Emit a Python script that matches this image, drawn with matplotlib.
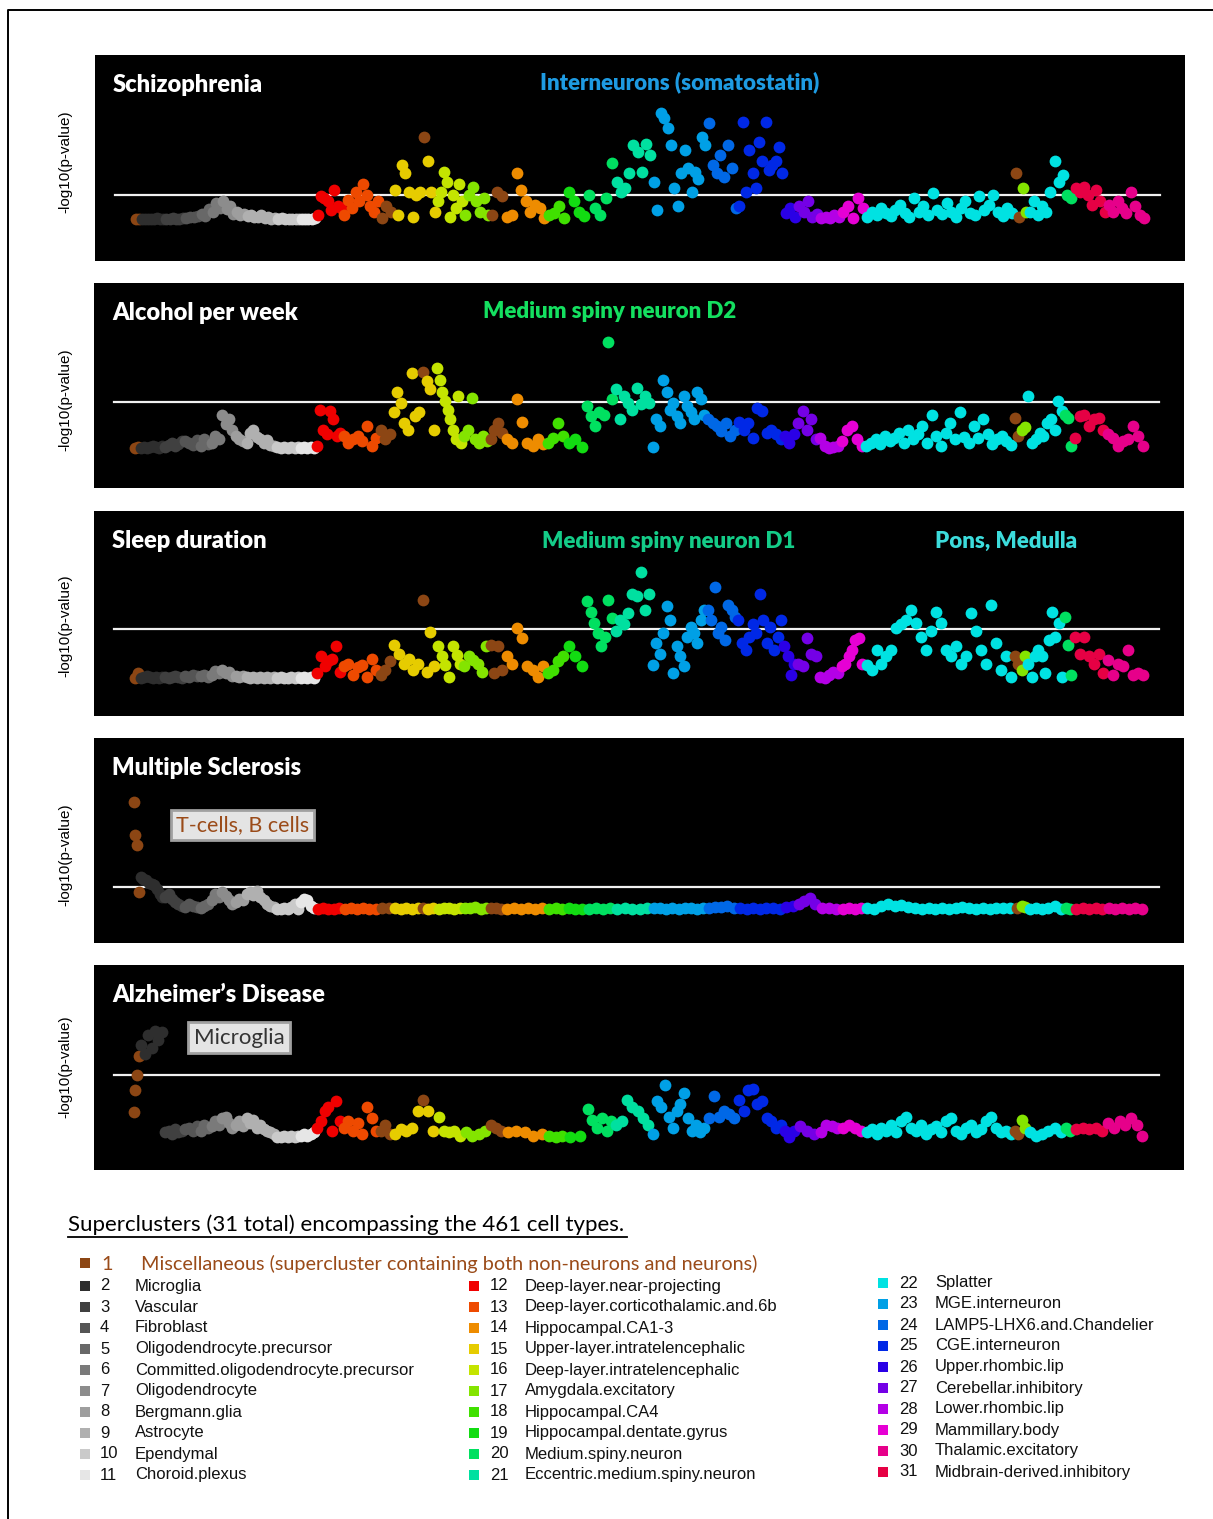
import matplotlib
matplotlib.use('Agg')
import matplotlib.pyplot as plt
from matplotlib.patches import Rectangle
import numpy as np

# supercluster legend
cluster_names = ['Miscellaneous (supercluster containing both non-neurons and neurons)',
                 'Microglia', 'Vascular', 'Fibroblast', 'Oligodendrocyte.precursor',
                 'Committed.oligodendrocyte.precursor', 'Oligodendrocyte', 'Bergmann.glia',
                 'Astrocyte', 'Ependymal', 'Choroid.plexus', 'Deep-layer.near-projecting',
                 'Deep-layer.corticothalamic.and.6b', 'Hippocampal.CA1-3',
                 'Upper-layer.intratelencephalic', 'Deep-layer.intratelencephalic',
                 'Amygdala.excitatory', 'Hippocampal.CA4', 'Hippocampal.dentate.gyrus',
                 'Medium.spiny.neuron', 'Eccentric.medium.spiny.neuron', 'Splatter',
                 'MGE.interneuron', 'LAMP5-LHX6.and.Chandelier', 'CGE.interneuron',
                 'Upper.rhombic.lip', 'Cerebellar.inhibitory', 'Lower.rhombic.lip',
                 'Mammillary.body', 'Thalamic.excitatory', 'Midbrain-derived.inhibitory']
cluster_colors = ['#8c4614', '#2e2e2e', '#404040', '#555555', '#686868', '#7a7a7a',
                  '#8c8c8c', '#9e9e9e', '#b0b0b0', '#cacaca', '#e6e6e6',
                  '#f00000', '#ee4a00', '#ee8c00', '#e6cc00', '#c4e400', '#84e400',
                  '#40e000', '#12dc12', '#00e060', '#00e0a0', '#00e2e2', '#00a0e6',
                  '#0068e6', '#0028e6', '#2a00e6', '#7400e6', '#b400e6', '#e600d4',
                  '#e6008a', '#e60044']

# cell types ordered along x: supercluster of each run and number of cell types in it
seg_cluster = [1, 2, 3, 4, 5, 6, 7, 8, 9, 10, 11,
               12, 13, 1, 15, 1, 15, 16, 17, 1, 14,
               18, 19, 20, 21, 23,
               24, 25, 26, 27, 28, 29, 22, 1, 17, 22, 20, 31, 30]
seg_count = [3, 11, 9, 7, 5, 5, 6, 5, 14, 11, 7,
             12, 17, 6, 13, 2, 5, 12, 12, 7, 19,
             9, 9, 13, 17, 25,
             14, 21, 6, 10, 10, 11, 68, 3, 3, 17, 4, 15, 18]

threshold = 4.0

# -log10(p), one list per run of cell types
schizophrenia = [
    [0.0, 0.1], [0.0, 0.1, 0.0, 0.1, 0.0, 0.2, 0.1, 0.0], [0.1, 0.0, 0.2, 0.1, 0.0, 0.2],
    [0.2, 0.4, 0.3, 0.5], [0.9, 0.5, 1.6], [1.2, 2.6, 1.8], [2.9, 1.6, 2.2, 0.9],
    [1.1, 0.7, 0.9], [0.5, 0.7, 0.3, 0.4, 0.6, 0.2, 0.3, 0.1, 0.2],
    [0.1, 0.2, 0.0, 0.1, 0.0, 0.1, 0.0], [0.0, 0.1, 0.0, 0.1, 0.2],
    [0.7, 3.7, 3.4, 2.9, 1.5, 4.8, 2.1, 1.8],
    [0.7, 3.1, 1.8, 4.5, 2.9, 5.8, 3.9, 2.1, 1.2, 2.9],
    [0.2, 2.1, 1.2],
    [4.8, 0.7, 8.8, 7.5, 4.5, 0.4, 3.9, 4.5],
    [13.4],
    [9.4, 4.5, 1.2],
    [2.9, 4.5, 7.7, 6.1, 0.4, 3.9, 1.8, 5.8, 2.9],
    [0.7, 3.9, 5.3, 2.9, 1.2, 3.4, 0.7],
    [0.7, 4.5, 3.7],
    [0.4, 0.7, 7.5, 4.8, 2.9, 1.2, 2.3, 1.8, 0.2],
    [0.7, 1.0, 2.1, 0.2],
    [4.5, 2.9, 1.2, 0.5],
    [3.9, 1.8, 0.7, 3.4, 9.1],
    [6.1, 4.5, 5.0, 7.5, 12.1, 11.0, 7.7, 12.3, 10.4],
    [6.1, 1.5, 17.2, 16.4, 14.8, 12.1, 5.0, 2.1, 7.5, 11.2, 8.3, 4.5, 7.7, 6.6, 13.4, 12.1],
    [15.6, 8.8, 7.5, 10.4, 6.9, 12.1, 8.3, 1.8],
    [2.1, 15.8, 4.5, 11.2, 7.5, 5.0, 12.6, 9.4, 15.8, 8.0, 8.8, 9.4, 11.8, 7.5],
    [1.0, 1.8, 0.4],
    [2.1, 1.2, 2.9, 0.4, 0.8],
    [0.2, 0.4, 0.2, 0.7, 0.3],
    [1.2, 2.1, 0.2, 3.4, 1.8],
    [0.4, 1.2, 0.7, 1.8, 1.0, 0.5, 1.5, 2.3, 1.0, 0.4, 3.4, 1.2, 2.1, 0.7, 4.3, 1.5,
     0.8, 2.6, 1.2, 0.4, 1.8, 2.9, 1.0, 0.7, 3.7, 1.5, 2.3, 3.9, 1.2, 0.5, 1.8, 1.0],
    [7.5, 0.3],
    [5.0, 1.2],
    [1.2, 2.9, 0.7, 2.1, 1.2, 4.5, 9.4, 6.1, 7.2],
    [3.9, 3.4],
    [5.0, 4.5, 5.3, 3.9, 2.3, 4.8, 2.9, 1.2],
    [2.3, 1.2, 2.9, 1.8, 1.0, 4.5, 2.1, 0.7, 0.2]]

alcohol = [
    [0.0, 0.1], [0.0, 0.1, 0.0, 0.1, 0.2, 0.1, 0.0, 0.2], [0.1, 0.3, 0.5, 0.2, 0.4, 0.6],
    [0.6, 0.5, 0.3, 0.7], [0.2, 0.8, 0.4], [0.5, 1.1, 0.8], [2.9, 2.1, 2.5, 1.6],
    [1.1, 0.8, 0.6], [0.5, 1.3, 1.6, 1.0, 0.8, 0.5, 0.7, 0.3, 0.2],
    [0.1, 0.0, 0.1, 0.0, 0.1, 0.0, 0.1], [0.0, 0.1, 0.0, 0.1, 0.0],
    [0.2, 3.3, 1.6, 1.2, 3.2, 2.5, 1.1, 1.3],
    [1.1, 0.5, 0.8, 1.1, 0.6, 1.9, 0.2, 0.9],
    [1.6, 0.8, 1.2],
    [3.1, 4.8, 3.9, 2.2, 1.6, 6.5, 2.8, 3.1],
    [6.6],
    [5.8, 5.1, 1.6],
    [6.9, 5.9, 4.8, 4.1, 3.3, 2.5, 1.6, 0.8, 4.5, 0.5],
    [1.1, 1.6, 4.3, 0.8, 0.5, 1.1, 0.6],
    [0.8, 1.6, 2.2, 1.3],
    [0.8, 0.5, 4.2, 2.3, 0.5, 0.2, 0.8, 0.4],
    [0.5, 0.9, 2.2, 1.1],
    [0.5, 0.8, 0.1],
    [3.6, 2.8, 1.9, 3.1, 2.9, 9.1, 4.2],
    [5.1, 2.5, 4.5, 3.9, 3.3, 5.2, 3.8, 4.5, 3.9],
    [0.1, 2.5, 1.9, 5.9, 4.8, 3.3, 3.9, 2.8, 2.2, 4.5, 3.6, 3.1, 2.5, 4.8, 4.2, 2.9],
    [2.5, 2.2, 1.9, 1.5, 2.2, 1.1, 1.6],
    [2.3, 1.6, 2.2, 0.9, 3.5, 3.2, 1.3, 1.6, 1.2, 0.8],
    [1.1, 0.5, 1.2],
    [2.2, 3.2, 1.6, 2.5, 0.8],
    [0.9, 0.2, 0.0, 0.1, 0.2],
    [0.6, 1.6, 1.9, 0.8, 0.2],
    [0.2, 0.5, 0.8, 0.4, 1.1, 0.6, 0.9, 1.3, 0.5, 1.6, 0.8, 1.2, 1.9, 0.5, 2.9, 1.1,
     0.2, 1.3, 2.2, 0.8, 3.1, 1.0, 0.5, 1.9, 0.9, 2.5, 1.2, 0.4, 0.8, 1.1, 0.6, 0.3],
    [2.6, 1.1],
    [1.6, 1.8],
    [4.5, 0.5, 0.8, 1.3, 1.1, 2.2, 2.5, 1.6, 4.1, 3.2],
    [2.9, 2.6, 0.2],
    [0.9, 2.8, 2.9, 1.9, 2.5, 2.6, 1.6],
    [1.2, 0.9, 0.2, 0.6, 0.8, 1.9, 1.1, 0.2]]

sleep = [
    [0.0, 0.4], [0.0, 0.1, 0.2, 0.1, 0.0, 0.1, 0.0, 0.1], [0.1, 0.0, 0.1, 0.2, 0.1, 0.0],
    [0.2, 0.1, 0.3, 0.2], [0.2, 0.3, 0.1], [0.3, 0.6, 0.4], [0.7, 0.4, 0.5, 0.2],
    [0.2, 0.1, 0.2], [0.1, 0.0, 0.1, 0.0, 0.1, 0.0, 0.1, 0.0, 0.1],
    [0.0, 0.1, 0.0, 0.0, 0.1, 0.0, 0.1], [0.0, 0.1, 0.0, 0.1, 0.0],
    [0.4, 1.8, 1.0, 1.4, 1.6, 2.6, 0.5],
    [1.0, 1.2, 0.3, 0.9, 1.1, 0.1, 1.6, 0.7],
    [0.3, 0.7, 1.4],
    [2.7, 2.0, 1.2, 1.6, 0.7, 1.2],
    [6.4],
    [0.5, 3.8, 1.0],
    [2.6, 1.8, 1.1, 0.1, 2.6, 1.9, 1.2],
    [1.0, 1.8, 1.5, 1.2, 0.5, 2.6],
    [2.7, 0.4, 2.6, 0.7],
    [1.8, 1.2, 4.1, 3.3, 1.0, 0.7, 0.1, 1.0],
    [0.4, 0.7, 1.4, 1.8],
    [2.6, 1.8, 1.0],
    [6.3, 5.4, 4.5, 3.7, 2.6, 3.4, 6.4, 4.9],
    [3.9, 4.8, 4.4, 5.3, 6.9, 6.7, 8.7, 5.6, 6.9],
    [1.1, 2.9, 2.0, 3.7, 5.9, 4.8, 0.4, 2.6, 1.8, 1.0, 3.4, 4.2, 3.7, 2.9, 4.8, 5.6],
    [5.6, 4.8, 7.5, 3.7, 4.2, 3.1, 6.0, 5.6, 5.0],
    [4.8, 2.9, 2.3, 3.4, 4.4, 3.7, 6.9, 4.8, 2.9, 4.2, 2.3, 3.4, 4.8],
    [2.6, 1.8, 0.3, 1.2],
    [1.2, 1.0, 3.3, 2.0, 1.8],
    [0.1, 0.0, 0.3, 0.5, 0.4],
    [1.0, 1.2, 1.8, 2.3, 3.1, 3.3, 1.2],
    [1.1, 0.7, 2.3, 1.2, 1.8, 2.3, 4.1, 4.4, 4.8, 5.6, 4.5, 3.4, 2.3, 3.9, 5.4, 4.5,
     2.3, 1.8, 2.6, 1.2, 1.8, 5.3, 3.9, 2.3, 1.2, 6.0, 2.9, 0.7, 1.8, 0.1],
    [1.8, 1.2],
    [0.7, 1.8],
    [1.2, 0.1, 1.8, 2.3, 1.8, 0.4, 3.1, 5.4, 3.4, 4.5, 0.1],
    [5.0, 2.7, 0.3],
    [3.4, 2.0, 3.4, 1.8, 1.2, 2.0, 0.4],
    [1.5, 0.3, 1.2, 1.0, 2.3, 0.3, 0.4, 0.3]]

multiple_sclerosis = [
    [20.0, 13.8, 11.9, 3.1], [5.9, 5.6, 5.3, 4.9, 4.7, 4.4, 3.6, 2.8, 2.2],
    [2.2, 2.8, 1.8, 1.3, 0.9, 0.5], [0.3, 0.9, 0.6, 0.4], [0.1, 0.5, 0.9],
    [1.6, 2.8, 2.2], [3.1, 2.4, 1.6, 0.9], [1.3, 1.9, 1.6],
    [2.8, 3.1, 2.6, 3.4, 2.2, 1.6, 0.9, 0.6, 0.3], [0.0, 0.0, 0.1, 0.0, 0.4, 0.9, 0.0],
    [1.3, 1.9, 1.6, 0.5, 0.2],
    [0.0, 0.1, 0.0, 0.0, 0.1],
    [0.0, 0.1, 0.0, 0.1, 0.0, 0.0],
    [0.1, 0.2],
    [0.1, 0.0, 0.2, 0.0, 0.1],
    [0.1],
    [0.0, 0.1],
    [0.0, 0.1, 0.2, 0.0, 0.1],
    [0.2, 0.1, 0.3, 0.0, 0.1],
    [0.1, 0.2, 0.0],
    [0.0, 0.1, 0.0, 0.1, 0.0, 0.1],
    [0.0, 0.1, 0.0],
    [0.1, 0.0, 0.0],
    [0.0, 0.1, 0.0, 0.1],
    [0.0, 0.1, 0.0, 0.0, 0.1],
    [0.2, 0.1, 0.0, 0.1, 0.0, 0.2, 0.1, 0.0, 0.1],
    [0.2, 0.4, 0.3, 0.5, 0.2],
    [0.1, 0.0, 0.1, 0.0, 0.1, 0.2, 0.0],
    [0.3, 0.6],
    [0.8, 1.5, 2.0, 0.9],
    [0.2, 0.1, 0.0],
    [0.0, 0.1, 0.0, 0.1],
    [0.1, 0.0, 0.6, 0.8, 0.5, 0.7, 0.3, 0.1, 0.0, 0.1, 0.0, 0.1, 0.0, 0.2, 0.4, 0.1,
     0.0, 0.1, 0.0, 0.1, 0.2, 0.1],
    [0.1],
    [0.6, 0.3],
    [0.0, 0.1, 0.0, 0.1, 0.5, 0.0],
    [0.1, 0.0],
    [0.0, 0.1, 0.0, 0.1, 0.0],
    [0.1, 0.0, 0.1, 0.0, 0.1, 0.0]]

alzheimers = [
    [1.6, 3.0, 4.0, 5.2], [5.9, 5.3, 6.5, 5.7, 6.8, 6.2, 6.7], [0.3, 0.4, 0.2, 0.5, 0.3, 0.4],
    [0.5, 0.6, 0.4, 0.7], [0.4, 0.8, 0.6], [0.7, 1.0, 0.8], [1.2, 1.3, 0.9, 0.6],
    [0.8, 1.0, 0.7], [1.2, 0.9, 1.1, 0.6, 0.8, 0.5, 0.4, 0.3, 0.2],
    [0.0, 0.0, 0.1, 0.0, 0.1, 0.0, 0.1], [0.1, 0.2, 0.1, 0.2, 0.3],
    [0.6, 1.0, 1.7, 1.9, 0.4, 2.3, 1.0],
    [0.6, 1.0, 0.4, 0.9, 0.2, 1.9, 1.2, 0.4],
    [0.4, 0.8, 0.2],
    [0.2, 0.5, 0.4, 0.6, 1.7],
    [2.4],
    [1.7, 0.4],
    [1.3, 0.4, 0.3, 0.4, 0.1],
    [0.3, 0.1, 0.2, 0.4],
    [0.8, 0.6, 0.4],
    [0.3, 0.4, 0.3, 0.1, 0.2],
    [0.1, 0.0, 0.1],
    [0.0, 0.1],
    [1.8, 1.1, 0.6, 1.2, 0.4, 1.0],
    [0.8, 1.0, 2.4, 1.9, 1.7, 1.2, 0.8],
    [0.2, 2.3, 1.9, 3.3, 1.3, 0.6, 1.7, 2.1, 2.8, 1.2, 0.4, 0.8, 0.3, 0.6],
    [1.2, 2.6, 1.3, 1.7, 1.5, 1.2],
    [2.4, 1.7, 3.0, 3.1, 2.1, 2.3, 1.2, 1.0, 0.6, 0.8],
    [0.4, 0.0, 0.4],
    [0.7, 0.4, 0.2],
    [0.3, 0.8, 0.7, 0.6],
    [0.6, 0.8, 0.6, 0.4],
    [0.3, 0.5, 0.2, 0.6, 0.4, 0.8, 0.3, 1.0, 1.3, 0.6, 0.4, 0.8, 0.2, 0.5, 0.7, 0.3,
     1.0, 1.2, 0.4, 0.2, 0.6, 0.8, 0.3, 0.5, 1.0, 1.3, 0.6, 0.3, 0.4, 0.2],
    [0.4, 0.2],
    [1.1, 0.6],
    [0.3, 0.1, 0.2, 0.4, 0.6, 0.3],
    [0.6, 0.4],
    [0.5, 0.6, 0.5, 0.6, 0.4],
    [0.9, 0.6, 1.0, 0.8, 1.2, 0.8, 0.1]]

panel_titles = ['Schizophrenia', 'Alcohol per week', 'Sleep duration',
                'Multiple Sclerosis', 'Alzheimer\u2019s Disease']
panel_values = [schizophrenia, alcohol, sleep, multiple_sclerosis, alzheimers]

# figure layout in pixels
W, H = 1213, 1519
panel_boxes = [(95, 55, 1185, 261), (94, 283, 1184, 488), (94, 511, 1184, 716),
               (94, 738, 1184, 943), (94, 965, 1184, 1170)]
panel_ylims = [(-6.8, 26.7), (-3.4, 14.2), (-3.1, 13.7), (-6.4, 31.9), (-2.1, 11.0)]
ylabel_y = [162, 400, 626, 855, 1067]

title_font = 'Lato'
label_font = 'Liberation Sans'

fig = plt.figure(figsize=(W / 100, H / 100), dpi=100)
fig.patch.set_facecolor('white')

# pixel overlay for border, y labels and legend
ov = fig.add_axes([0, 0, 1, 1])
ov.set_xlim(0, W)
ov.set_ylim(H, 0)
ov.axis('off')
ov.plot([8, 8, W], [H, 10, 10], color='black', lw=1.4, solid_capstyle='butt')

starts = np.concatenate([[0], np.cumsum(seg_count)[:-1]])
n_types = int(np.sum(seg_count))

axes = []
for i, (x0, y0, x1, y1) in enumerate(panel_boxes):
    ax = fig.add_axes([x0 / W, 1 - y1 / H, (x1 - x0) / W, (y1 - y0) / H])
    ax.set_facecolor('black')
    for sp in ax.spines.values():
        sp.set_visible(False)
    ax.set_xticks([])
    ax.set_yticks([])
    ax.set_xlim(-18.2, n_types - 1 + 18.2)
    ax.set_ylim(*panel_ylims[i])

    vals = panel_values[i]
    for seg in range(len(seg_cluster)):
        v = np.array(vals[seg])
        n = len(v)
        x = starts[seg] - 0.5 + (np.arange(n) + 0.5) * seg_count[seg] / n
        ax.scatter(x, v, s=72, color=cluster_colors[seg_cluster[seg] - 1],
                   linewidths=0, zorder=3)

    ax.axhline(threshold, xmin=0.018, xmax=0.977, color='#f0f0f0', lw=1.6, zorder=2)
    ax.text(0.0165, 0.852, panel_titles[i], transform=ax.transAxes, color='white',
            fontsize=17, fontweight='heavy', family=title_font, va='center', ha='left')
    ov.text(65, ylabel_y[i], '-log10(p-value)', rotation=90, ha='center', va='center',
            fontsize=11, family=label_font, color='black')
    axes.append(ax)

# highlighted cell classes
axes[0].text(0.536, 0.866, 'Interneurons (somatostatin)', transform=axes[0].transAxes,
             color='#1e9be2', fontsize=16, fontweight='heavy', family=title_font,
             ha='center', va='center')
axes[1].text(0.473, 0.862, 'Medium spiny neuron D2', transform=axes[1].transAxes,
             color='#14e060', fontsize=16, fontweight='heavy', family=title_font,
             ha='center', va='center')
axes[2].text(0.527, 0.852, 'Medium spiny neuron D1', transform=axes[2].transAxes,
             color='#14cc88', fontsize=16, fontweight='heavy', family=title_font,
             ha='center', va='center')
axes[2].text(0.837, 0.852, 'Pons, Medulla', transform=axes[2].transAxes,
             color='#3cdcdc', fontsize=16, fontweight='heavy', family=title_font,
             ha='center', va='center')
axes[3].text(0.136, 0.575, 'T-cells, B cells', transform=axes[3].transAxes,
             color='#9a4b19', fontsize=15.5, family=title_font, ha='center', va='center',
             bbox=dict(boxstyle='square,pad=0.22', facecolor='#e4e4e4',
                       edgecolor='#a0a0a0', lw=2))
axes[4].text(0.133, 0.645, 'Microglia', transform=axes[4].transAxes,
             color='#333333', fontsize=16, family=title_font, ha='center', va='center',
             bbox=dict(boxstyle='square,pad=0.25', facecolor='#e4e4e4',
                       edgecolor='#a0a0a0', lw=2))

# legend block
ov.text(68, 1225, 'Superclusters (31 total) encompassing the 461 cell types.',
        fontsize=16, family=title_font, ha='left', va='center', color='black')
ov.plot([68, 627], [1237, 1237], color='black', lw=1.3)

ov.add_patch(Rectangle((80, 1258), 10, 10, color=cluster_colors[0], lw=0))
ov.text(101, 1264, '1', fontsize=14.3, family=title_font, color='#9a4b19', va='center')
ov.text(141, 1264, cluster_names[0], fontsize=14.3, family=title_font, color='#9a4b19',
        va='center')

legend_cols = [(80, 100, 135, 1286, range(2, 12)),
               (469, 490, 525, 1286, range(12, 22)),
               (878, 899, 935, 1283, range(22, 32))]
for xs, xn, xl, ytop, ids in legend_cols:
    for r, cid in enumerate(ids):
        y = ytop + 21 * r
        ov.add_patch(Rectangle((xs, y - 5), 10, 10, color=cluster_colors[cid - 1], lw=0))
        ov.text(xn, y, str(cid), fontsize=12, family=label_font, va='center', color='#111111')
        ov.text(xl, y, cluster_names[cid - 1], fontsize=12, family=label_font,
                va='center', color='#111111')

fig.savefig('out.png', dpi=100, facecolor='white')
